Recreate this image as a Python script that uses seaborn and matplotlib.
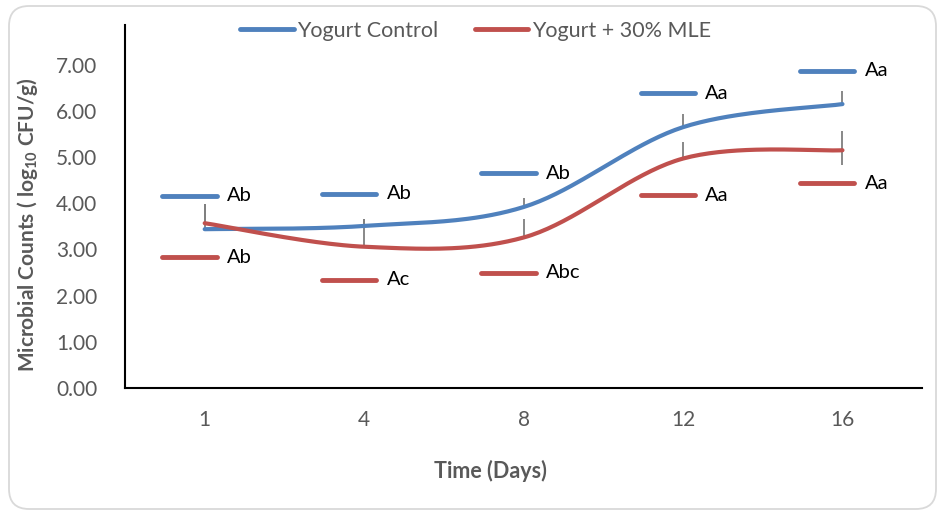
import numpy as np
import pandas as pd
import matplotlib
matplotlib.use("Agg")
import matplotlib.pyplot as plt
import seaborn as sns
from matplotlib.patches import FancyBboxPatch

# ---- data ----
days = ["1", "4", "8", "12", "16"]
series_names = ["Yogurt Control", "Yogurt + 30% MLE"]
control = [3.44, 3.51, 3.92, 5.65, 6.15]
mle = [3.57, 3.06, 3.26, 4.97, 5.15]
control_err_up = [0.54, 0.14, 0.20, 0.28, 0.29]
control_err_down = [0.0, 0.0, 0.0, 0.0, 0.0]
mle_err_up = [0.42, 0.59, 0.39, 0.35, 0.42]
mle_err_down = [0.0, 0.0, 0.0, 0.0, 0.33]
control_letters = ["Ab", "Ab", "Ab", "Aa", "Aa"]
mle_letters = ["Ab", "Ac", "Abc", "Aa", "Aa"]
control_label_y = [4.16, 4.21, 4.65, 6.38, 6.87]
mle_label_y = [2.83, 2.34, 2.50, 4.18, 4.43]

BLUE = "#4F81BD"
RED = "#C0504D"
GRAY_TXT = "#595959"

sns.set_theme(style="white")
plt.rcParams["font.family"] = ["Lato", "DejaVu Sans"]
plt.rcParams["mathtext.fontset"] = "custom"
plt.rcParams["mathtext.rm"] = "Lato"
plt.rcParams["mathtext.bf"] = "Lato:bold"
plt.rcParams["mathtext.it"] = "Lato:italic"


def smooth(xs, ys, n=40):
    """Excel-like smoothed line (Catmull-Rom Bezier)."""
    P = np.column_stack([xs, ys]).astype(float)
    m = len(P)
    out = []
    for i in range(m - 1):
        p0 = P[max(i - 1, 0)]
        p1 = P[i]
        p2 = P[i + 1]
        p3 = P[min(i + 2, m - 1)]
        c1 = p1 + (p2 - p0) / 6.0
        c2 = p2 - (p3 - p1) / 6.0
        t = np.linspace(0, 1, n, endpoint=(i == m - 2))[:, None]
        seg = ((1 - t) ** 3) * p1 + 3 * ((1 - t) ** 2) * t * c1 + 3 * (1 - t) * t ** 2 * c2 + t ** 3 * p2
        out.append(seg)
    return np.vstack(out)


xi = np.arange(len(days))
frames = []
for name, vals in zip(series_names, [control, mle]):
    s = smooth(xi, vals)
    frames.append(pd.DataFrame({"x": s[:, 0], "y": s[:, 1], "series": name}))
df = pd.concat(frames, ignore_index=True)

fig = plt.figure(figsize=(9.41, 5.12), dpi=100)
ax = fig.add_axes([0.1328, 0.2422, 0.8472, 0.7096])

# chart border
border = FancyBboxPatch((0.09, 0.03), 9.27, 5.03,
                        boxstyle="round,pad=0,rounding_size=0.2",
                        transform=fig.dpi_scale_trans, fc="none",
                        ec="#D9D9D9", lw=1.3, zorder=0)
fig.patches.append(border)

# error bars (behind lines)
ax.errorbar(xi, control, yerr=[control_err_down, control_err_up], fmt="none",
            ecolor="#7F7F7F", elinewidth=1.3, capsize=0, zorder=1)
ax.errorbar(xi, mle, yerr=[mle_err_down, mle_err_up], fmt="none",
            ecolor="#7F7F7F", elinewidth=1.3, capsize=0, zorder=1)

sns.lineplot(data=df, x="x", y="y", hue="series", palette=[BLUE, RED],
             sort=False, estimator=None, lw=3.0, ax=ax, zorder=2)
handles, labels = ax.get_legend_handles_labels()
ax.get_legend().remove()

# data labels with legend keys
for vals_y, letters, col in [(control_label_y, control_letters, BLUE),
                             (mle_label_y, mle_letters, RED)]:
    for i, (ly, lt) in enumerate(zip(vals_y, letters)):
        ax.plot([i - 0.265, i + 0.075], [ly, ly], color=col, lw=3.5,
                solid_capstyle="round", zorder=3)
        ax.text(i + 0.14, ly, lt, ha="left", va="center", fontsize=14.5,
                color="#000000", zorder=3)

ax.set_xlim(-0.5, len(days) - 0.5)
ax.set_ylim(0, 7.87)
ax.set_xticks(xi)
ax.set_xticklabels(days)
ax.set_yticks(np.arange(0, 8, 1))
ax.set_yticklabels([f"{v:.2f}" for v in np.arange(0, 8, 1)])
ax.tick_params(axis="both", length=0, labelsize=15, colors=GRAY_TXT)
ax.tick_params(axis="y", pad=20)
ax.tick_params(axis="x", pad=16)

for sp in ["top", "right"]:
    ax.spines[sp].set_visible(False)
for sp in ["left", "bottom"]:
    ax.spines[sp].set_color("black")
    ax.spines[sp].set_linewidth(1.5)

ax.set_xlabel("Time (Days)", fontsize=15.5, fontweight="bold", color=GRAY_TXT)
ax.set_ylabel(r"Microbial Counts ( log$_{\mathbf{10}}$ CFU/g)", fontsize=15,
              fontweight="bold", color=GRAY_TXT)
ax.xaxis.set_label_coords(0.458, -0.198)
ax.yaxis.set_label_coords(-0.107, 0.45)

fig.legend(handles, labels, loc="center", bbox_to_anchor=(0.505, 0.94),
           ncol=2, frameon=False, fontsize=15.5, handlelength=2.5,
           handletextpad=0.15, columnspacing=1.7, labelcolor=GRAY_TXT)
for h in fig.legends[0].get_lines():
    h.set_linewidth(3.5)

fig.savefig("out.png", dpi=100)
